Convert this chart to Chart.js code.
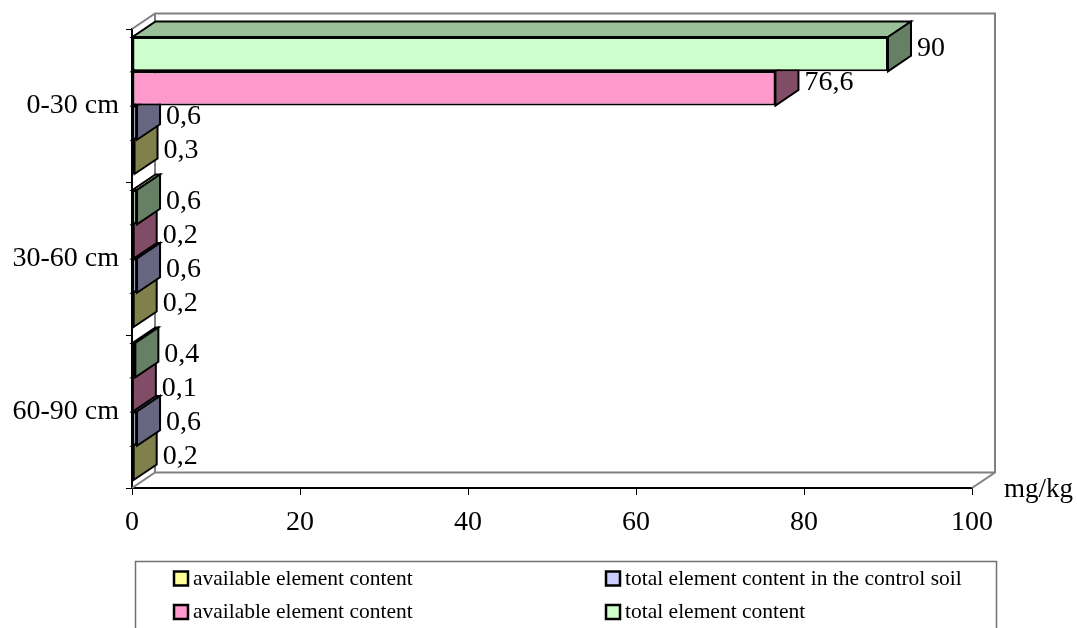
<!DOCTYPE html>
<html>
<head>
<meta charset="utf-8">
<script src="https://cdn.jsdelivr.net/npm/chart.js@4/dist/chart.umd.min.js"></script>
<style>
  html, body { margin: 0; padding: 0; background: #ffffff; }
  canvas { display: block; }
</style>
</head>
<body>
<canvas id="chart" width="1077" height="628"></canvas>
<script>
// Soil layers (category axis, top to bottom)
const depthLabels = ['0-30 cm', '30-60 cm', '60-90 cm'];

// Element content per layer, mg/kg
const totalContent      = [90, 0.6, 0.4];
const availableContent  = [76.6, 0.2, 0.1];
const totalControl      = [0.6, 0.6, 0.6];
const availableControl  = [0.3, 0.2, 0.2];

// Value axis ticks and unit
const xTickValues = [0, 20, 40, 60, 80, 100];
const unitLabel = 'mg/kg';

const FONT = "'Liberation Serif', 'Times New Roman', serif";
const DX = 23, DY = 15.5;          // oblique depth of bars and walls

function barGeom(el) {
  const p = el.getProps(['x', 'y', 'base', 'height'], true);
  return {
    x0: Math.min(p.x, p.base), x1: Math.max(p.x, p.base),
    yt: p.y - p.height / 2, yb: p.y + p.height / 2, yc: p.y
  };
}

function poly(ctx, pts, fill) {
  ctx.beginPath();
  ctx.moveTo(pts[0][0], pts[0][1]);
  for (let i = 1; i < pts.length; i++) ctx.lineTo(pts[i][0], pts[i][1]);
  ctx.closePath();
  ctx.fillStyle = fill;
  ctx.fill();
  ctx.stroke();
}

// Back wall, floor edges and the top/side faces of every bar
const depthPlugin = {
  id: 'depth3d',
  beforeDatasetsDraw(chart) {
    const { ctx, chartArea: a } = chart;
    ctx.save();
    ctx.strokeStyle = '#808080';
    ctx.lineWidth = 2;
    ctx.beginPath();
    ctx.moveTo(a.left, a.top);
    ctx.lineTo(a.left + DX, a.top - DY);
    ctx.lineTo(a.right + DX, a.top - DY);
    ctx.lineTo(a.right + DX, a.bottom - DY);
    ctx.lineTo(a.right, a.bottom);
    ctx.moveTo(a.left, a.bottom);
    ctx.lineTo(a.left + DX, a.bottom - DY);
    ctx.lineTo(a.right + DX, a.bottom - DY);
    ctx.moveTo(a.left + DX, a.top - DY);
    ctx.lineTo(a.left + DX, a.bottom - DY);
    ctx.stroke();

    ctx.strokeStyle = '#000000';
    ctx.lineWidth = 2;
    ctx.lineJoin = 'miter';
    const sets = chart.data.datasets;
    for (let d = sets.length - 1; d >= 0; d--) {
      const ds = sets[d];
      chart.getDatasetMeta(d).data.forEach(el => {
        const g = barGeom(el);
        poly(ctx, [[g.x0, g.yt], [g.x1, g.yt], [g.x1 + DX, g.yt - DY], [g.x0 + DX, g.yt - DY]], ds.topColor);
        poly(ctx, [[g.x1, g.yt], [g.x1, g.yb], [g.x1 + DX, g.yb - DY], [g.x1 + DX, g.yt - DY]], ds.sideColor);
      });
    }
    ctx.restore();
  },
  afterDatasetsDraw(chart) {
    const { ctx } = chart;
    ctx.save();
    ctx.font = `28px ${FONT}`;
    ctx.fillStyle = '#000000';
    ctx.textAlign = 'left';
    ctx.textBaseline = 'middle';
    chart.data.datasets.forEach((ds, d) => {
      chart.getDatasetMeta(d).data.forEach((el, i) => {
        const g = barGeom(el);
        const txt = String(ds.data[i]).replace('.', ',');
        ctx.fillText(txt, g.x1 + DX + 6, g.yc - 6);
      });
    });
    ctx.restore();
  }
};

// Boxed two-column legend and the unit caption
const legendPlugin = {
  id: 'boxLegend',
  afterDraw(chart) {
    const { ctx, chartArea: a } = chart;
    ctx.save();
    ctx.fillStyle = '#000000';
    ctx.font = `27px ${FONT}`;
    ctx.textAlign = 'left';
    ctx.textBaseline = 'alphabetic';
    ctx.fillText(unitLabel, a.right + 32, a.bottom + 9);

    ctx.strokeStyle = '#707070';
    ctx.lineWidth = 1.5;
    ctx.strokeRect(135.5, 561.5, 861, 100);

    const cols = [174, 606];
    const rows = [571.5, 605];
    const sets = chart.data.datasets;
    const order = sets.map((_, i) => i).reverse();
    ctx.font = `21.5px ${FONT}`;
    order.forEach((d, k) => {
      const x = cols[k % 2], y = rows[Math.floor(k / 2)];
      ctx.fillStyle = sets[d].backgroundColor;
      ctx.fillRect(x, y, 14, 14);
      ctx.strokeStyle = '#000000';
      ctx.lineWidth = 2.5;
      ctx.strokeRect(x, y, 14, 14);
      ctx.fillStyle = '#000000';
      ctx.fillText(sets[d].label, x + 19, y + 13);
    });
    ctx.restore();
  }
};

const barStyle = { borderColor: '#000000', borderWidth: 2, borderSkipped: false };

new Chart(document.getElementById('chart'), {
  type: 'bar',
  data: {
    labels: depthLabels,
    datasets: [
      { label: 'total element content', data: totalContent,
        backgroundColor: '#CCFFCC', topColor: '#99C099', sideColor: '#668066', ...barStyle },
      { label: 'available element content', data: availableContent,
        backgroundColor: '#FF99CC', topColor: '#BF7399', sideColor: '#804C66', ...barStyle },
      { label: 'total element content in the control soil', data: totalControl,
        backgroundColor: '#CCCCFF', topColor: '#9999BF', sideColor: '#666680', ...barStyle },
      { label: 'available element content', data: availableControl,
        backgroundColor: '#FFFF99', topColor: '#BFBF73', sideColor: '#80804C', ...barStyle }
    ]
  },
  options: {
    indexAxis: 'y',
    responsive: false,
    devicePixelRatio: 1,
    animation: false,
    datasets: { bar: { categoryPercentage: 0.895, barPercentage: 1.0 } },
    layout: { padding: { top: 29, right: 105, bottom: 0, left: 0 } },
    plugins: { legend: { display: false }, tooltip: { enabled: false } },
    scales: {
      y: {
        type: 'category',
        offset: true,
        grid: { offset: true, drawOnChartArea: false, drawTicks: true, tickLength: 6, color: '#000000', lineWidth: 1 },
        border: { display: true, color: '#000000', width: 2 },
        ticks: { font: { family: FONT, size: 28 }, color: '#000000', padding: 7 },
        afterFit(s) { s.width = 132; }
      },
      x: {
        type: 'linear',
        min: 0,
        max: 100,
        afterBuildTicks(s) { s.ticks = xTickValues.map(v => ({ value: v })); },
        grid: { drawOnChartArea: false, drawTicks: true, tickLength: 7, color: '#000000', lineWidth: 1 },
        border: { display: true, color: '#000000', width: 2 },
        ticks: { font: { family: FONT, size: 28 }, color: '#000000', padding: 11, maxRotation: 0, autoSkip: false },
        afterFit(s) { s.height = 140; }
      }
    }
  },
  plugins: [depthPlugin, legendPlugin]
});
</script>
</body>
</html>
